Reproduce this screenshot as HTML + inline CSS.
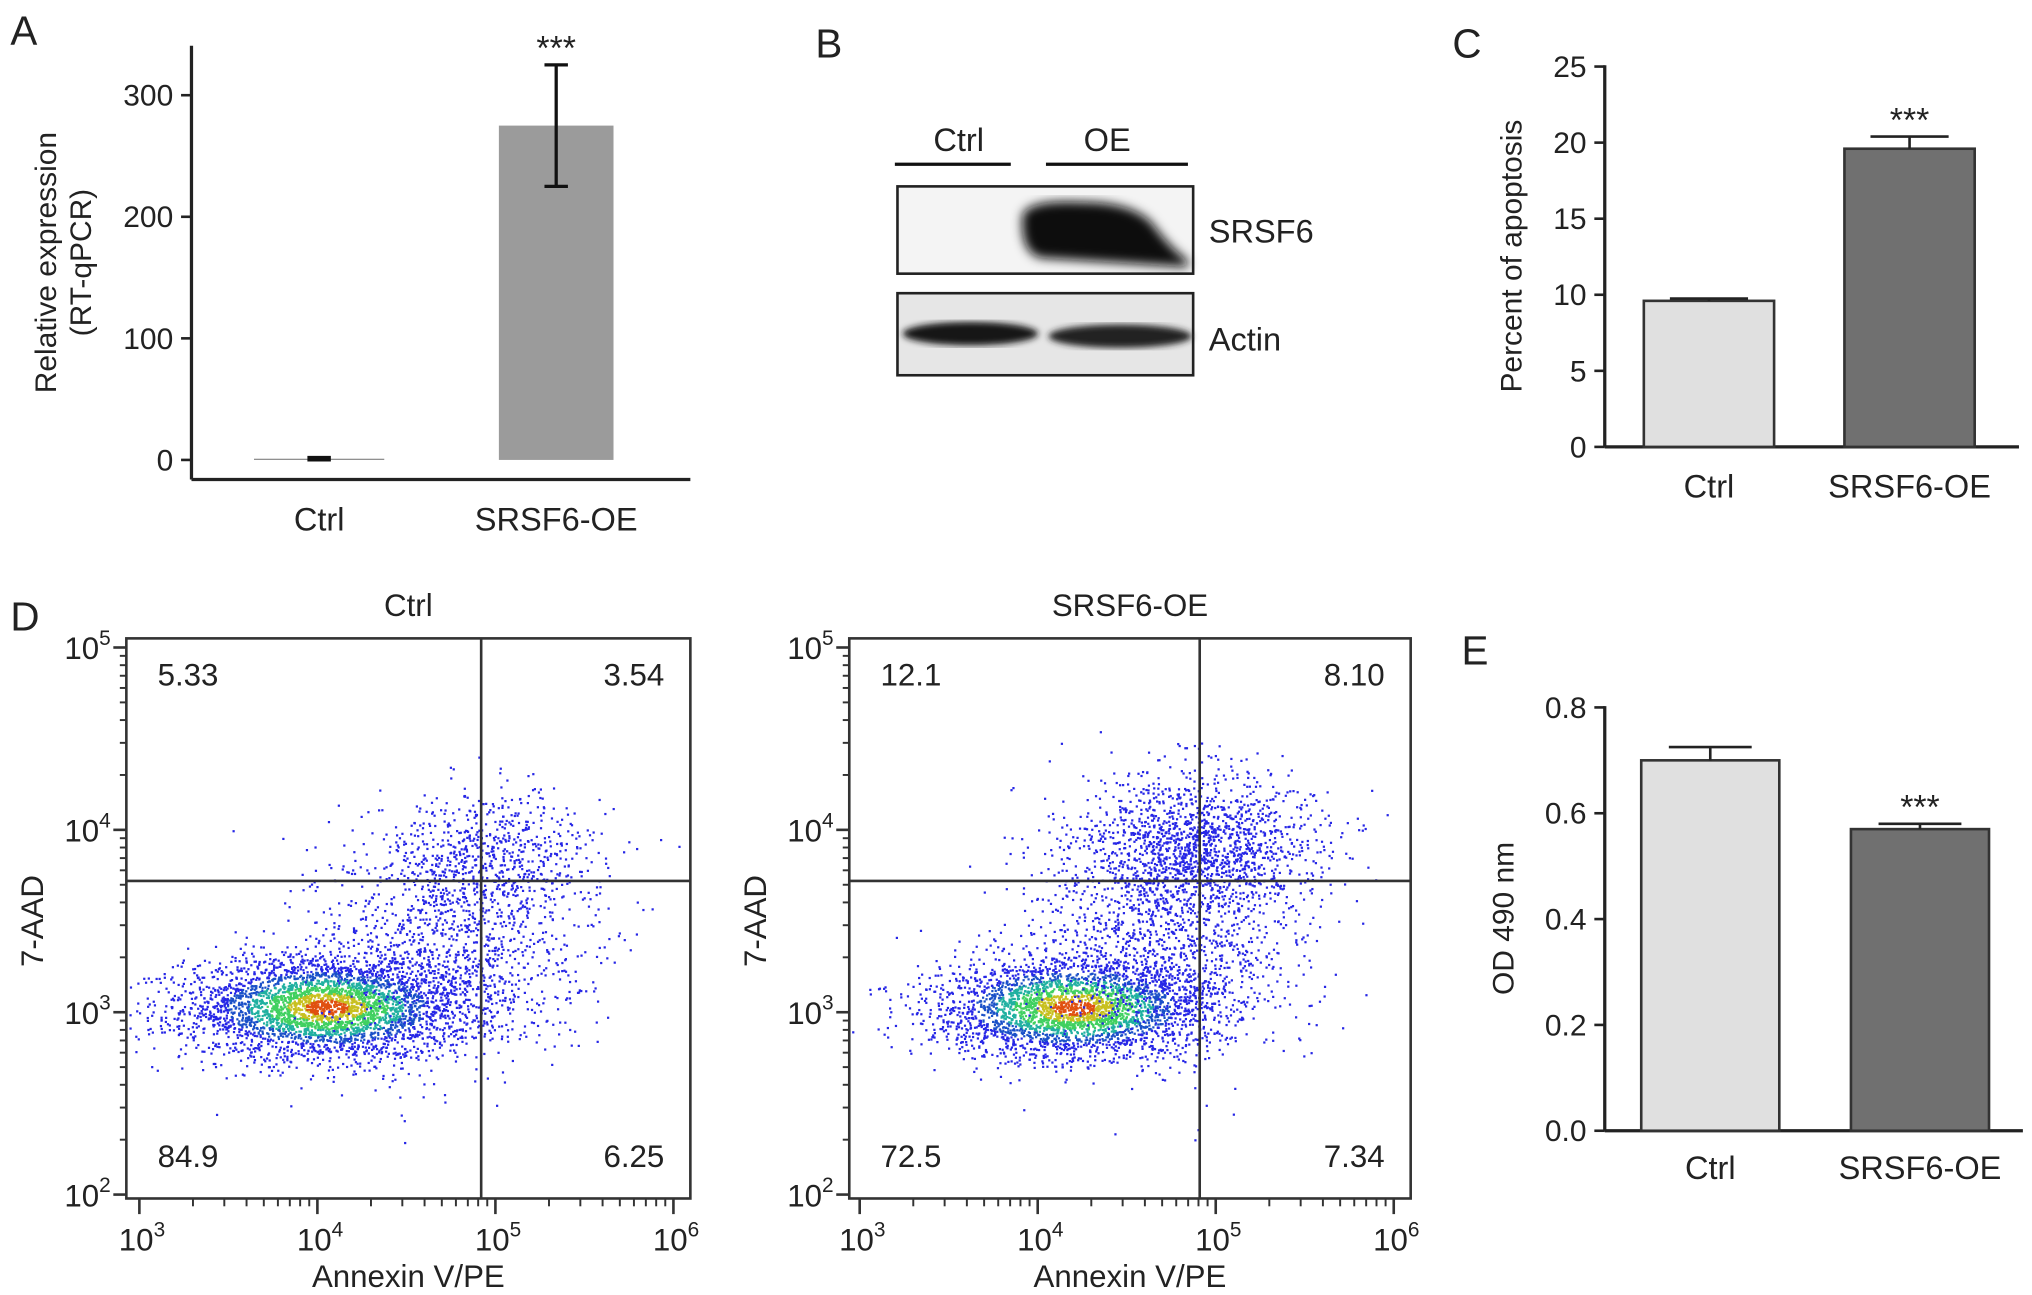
<!DOCTYPE html>
<html><head><meta charset="utf-8"><style>
html,body{margin:0;padding:0;background:#fff}
svg{display:block}
text{font-family:"Liberation Sans",Arial,sans-serif;fill:#222}
</style></head><body>
<svg id="fig" width="2032" height="1295" viewBox="0 0 1560 994" xmlns="http://www.w3.org/2000/svg">
<g id="panelA"></g>
<g id="panelB">
  <text x="626" y="44" font-size="31">B</text>
  <text x="736" y="116" font-size="25" text-anchor="middle">Ctrl</text>
  <text x="850" y="116" font-size="25" text-anchor="middle">OE</text>
  <line x1="687" y1="126" x2="776" y2="126" stroke="#111" stroke-width="2.5"/>
  <line x1="803" y1="126" x2="912" y2="126" stroke="#111" stroke-width="2.5"/>
  <defs>
    <filter id="blur4"><feGaussianBlur stdDeviation="4"/></filter>
    <filter id="blur2"><feGaussianBlur stdDeviation="2.5"/></filter>
  </defs>
  <rect x="689" y="143" width="227" height="67" fill="#f4f4f4" stroke="#222" stroke-width="2"/>
  <path d="M785 165 Q790 153 830 155 Q870 155 885 172 Q898 190 912 200 L912 205 L800 198 Q783 195 785 165 Z" fill="#0a0a0a" filter="url(#blur4)"/>
  <rect x="689" y="225" width="227" height="63" fill="#e6e6e6" stroke="#222" stroke-width="2"/>
  <ellipse cx="745" cy="256" rx="52" ry="9" fill="#151515" filter="url(#blur2)"/>
  <ellipse cx="860" cy="258" rx="55" ry="9" fill="#222" filter="url(#blur2)"/>
  <text x="928" y="186" font-size="25">SRSF6</text>
  <text x="928" y="269" font-size="25">Actin</text>
</g>
<g id="panelC"></g>
<g id="panelD1"></g>
<g id="panelD2"></g>
<g id="panelE"></g>
</svg>
<script>
// ---- data ----
const catsA = ['Ctrl','SRSF6-OE'];
const valsA = [1, 275];
const errA = [1, 50];
const ticksA = [0,100,200,300];
const catsC = ['Ctrl','SRSF6-OE'];
const valsC = [9.6, 19.6];
const errC = [0.15, 0.8];
const ticksC = [0,5,10,15,20,25];
const catsE = ['Ctrl','SRSF6-OE'];
const valsE = [0.70, 0.57];
const errE = [0.025, 0.01];
const ticksE = ['0.0','0.2','0.4','0.6','0.8'];
// flow clusters: [log10 x, log10 y, sdx, sdy, count, dense]
const clustersCtrl = [[4.05,3.03,0.4,0.14,3800,1],[4.95,3.85,0.33,0.18,700,0],[4.75,3.35,0.38,0.3,1000,0]];
const clustersOE = [[4.2,3.03,0.4,0.14,3200,1],[4.9,3.92,0.33,0.2,1500,0],[4.7,3.4,0.38,0.32,1200,0]];
const quadCtrl = ['5.33','3.54','84.9','6.25'];
const quadOE = ['12.1','8.10','72.5','7.34'];
const gateCtrl = [4.92, 3.72];
const gateOE = [4.91, 3.72];

const NS='http://www.w3.org/2000/svg';
function mk(parent,tag,attrs,txt){const e=document.createElementNS(NS,tag);for(const k in attrs)e.setAttribute(k,attrs[k]);if(txt!==undefined)e.textContent=txt;parent.appendChild(e);return e;}

function barPanel(g,opt){
  const y=v=>opt.y0-(v-opt.min)/(opt.max-opt.min)*(opt.y0-opt.yTop);
  let t=mk(g,'text',{x:opt.lx,y:opt.ly,'font-size':31},opt.letter);
  
  let ax=mk(g,'line',{x1:opt.ax,y1:opt.axTop,x2:opt.ax,y2:opt.xaxY,stroke:'#222','stroke-width':2.5});
  
  let xa=mk(g,'line',{x1:opt.ax,y1:opt.xaxY,x2:opt.xEnd,y2:opt.xaxY,stroke:'#222','stroke-width':2.5});
  
  opt.ticks.forEach(tk=>{const v=parseFloat(tk);const yy=y(v);
    let l=mk(g,'line',{x1:opt.ax-8,y1:yy,x2:opt.ax,y2:yy,stroke:'#222','stroke-width':2});
    
    let tt=mk(g,'text',{x:opt.ax-14,y:yy+8,'font-size':23,'text-anchor':'end'},tk);
    });
  let yt=mk(g,'text',{transform:`translate(${opt.ytx},${(opt.axTop+opt.xaxY)/2}) rotate(-90)`,'font-size':23,'text-anchor':'middle'});
  opt.ytitle.forEach((s,i)=>{mk(yt,'tspan',{x:0,dy:i?27:0},s);});
  
  opt.cats.forEach((c,i)=>{
    const cx=opt.cx[i],w=opt.bw,top=y(opt.vals[i]);
    let r=mk(g,'rect',{x:cx-w/2,y:top,width:w,height:y(opt.min)-top,fill:opt.fill[i],stroke:opt.stroke,'stroke-width':opt.sw});
    
    const eh=y(opt.vals[i]+opt.err[i]);
    if(opt.twoSided){const el=y(opt.vals[i]-opt.err[i]);
      let e=mk(g,'path',{d:`M${cx} ${eh}V${el}M${cx-9} ${eh}H${cx+9}M${cx-9} ${el}H${cx+9}`,stroke:'#111','stroke-width':2.5,fill:'none'});
      
    } else {
      let e=mk(g,'path',{d:`M${cx} ${eh}V${top}M${cx-w*0.3} ${eh}H${cx+w*0.3}`,stroke:'#222','stroke-width':2,fill:'none'});
      
    }
    let lb=mk(g,'text',{x:cx,y:opt.catY,'font-size':25,'text-anchor':'middle'},c);
    
    if(opt.star[i]){let s=mk(g,'text',{x:cx,y:eh-4,'font-size':26,'text-anchor':'middle'},'***');
      }
  });
}
barPanel(document.getElementById('panelA'),{letter:'A',lx:8,ly:34,ax:147,axTop:35,xaxY:368,xEnd:530,y0:353,yTop:73,min:0,max:300,
  ticks:ticksA.map(String),ytitle:['Relative expression','(RT-qPCR)'],ytx:43,cats:catsA,vals:valsA,err:errA,cx:[245,427],bw:100,
  fill:['#888','#9b9b9b'],stroke:'none',sw:0,twoSided:true,catY:407,star:[0,1]});
barPanel(document.getElementById('panelC'),{letter:'C',lx:1115,ly:44,ax:1232,axTop:50,xaxY:343,xEnd:1550,y0:343,yTop:51,min:0,max:25,
  ticks:ticksC.map(String),ytitle:['Percent of apoptosis'],ytx:1168,cats:catsC,vals:valsC,err:errC,cx:[1312,1466],bw:100,
  fill:['#e0e0e0','#707070'],stroke:'#333',sw:2,twoSided:false,catY:382,star:[0,1]});
barPanel(document.getElementById('panelE'),{letter:'E',lx:1122,ly:510,ax:1232,axTop:542,xaxY:868,xEnd:1553,y0:868,yTop:543,min:0,max:0.8,
  ticks:ticksE,ytitle:['OD 490 nm'],ytx:1162,cats:catsE,vals:valsE,err:errE,cx:[1313,1474],bw:106,
  fill:['#e0e0e0','#707070'],stroke:'#333',sw:2,twoSided:false,catY:905,star:[0,1]});
document.querySelectorAll('#panelA rect').forEach((r,i)=>{const cx=[245,427][i];r.setAttribute('x',cx-(i?44:50));r.setAttribute('width',i?88:100);});

function rng(seed){let s=seed;return()=>{s=(s*1664525+1013904223)%4294967296;return s/4294967296;};}
function flow(g,o){
  const X=v=>o.x0+(v-3)*(o.x1-o.x0)/3, Y=v=>o.y0-(v-2)*(o.y0-o.y1)/3;
  const bx=o.bx0,by=o.by0,bw=o.bx1-o.bx0,bh=o.by1-o.by0;
  let tl=mk(g,'text',{x:(o.bx0+o.bx1)/2,y:473,'font-size':24,'text-anchor':'middle'},o.title);
  
  const r=rng(o.seed);
  const gauss=()=>{let u=r()||1e-6,v=r();return Math.sqrt(-2*Math.log(u))*Math.cos(2*Math.PI*v);};
  const dots=mk(g,'g',{});
  o.clusters.forEach(c=>{
    for(let i=0;i<c[4];i++){const a=gauss(),b=gauss();const lx=c[0]+a*c[2],ly=c[1]+b*c[3];
      const px=X(lx),py=Y(ly);if(px<bx+2||px>bx+bw-2||py<by+2||py>by+bh-2)continue;
      const d=Math.sqrt(a*a+b*b);let col='#2626e6';
      if(c[5]){if(d<0.3)col='#e05010';else if(d<0.55)col='#c8c020';else if(d<0.85)col='#40d060';else if(d<1.1)col='#20b0a0';else if(d<1.4)col='#1a50c8';}
      mk(dots,'rect',{x:px.toFixed(1),y:py.toFixed(1),width:1.7,height:1.7,fill:col});}
  });
  let box=mk(g,'rect',{x:bx,y:by,width:bw,height:bh,fill:'none',stroke:'#333','stroke-width':2});
  
  let vg=mk(g,'line',{x1:X(o.gate[0]),y1:by,x2:X(o.gate[0]),y2:by+bh,stroke:'#333','stroke-width':2});
  
  let hg=mk(g,'line',{x1:bx,y1:Y(o.gate[1]),x2:bx+bw,y2:Y(o.gate[1]),stroke:'#333','stroke-width':2});
  
  const qp=[[bx+24,by+36,'start'],[bx+bw-20,by+36,'end'],[bx+24,by+bh-24,'start'],[bx+bw-20,by+bh-24,'end']];
  o.quad.forEach((q,i)=>{let t=mk(g,'text',{x:qp[i][0],y:qp[i][1],'font-size':24,'text-anchor':qp[i][2]},q);
    });
  for(let dd=3;dd<=6;dd++){
    const px=X(dd);let l=mk(g,'line',{x1:px,y1:by+bh,x2:px,y2:by+bh+12,stroke:'#333','stroke-width':2});
    
    let t=mk(g,'text',{x:px+2,y:by+bh+40,'font-size':24,'text-anchor':'middle'},'10');
    mk(t,'tspan',{dy:-11,'font-size':16},String(dd));
    
    if(dd<6)for(let m=2;m<10;m++){const mx=X(dd+Math.log10(m));mk(g,'line',{x1:mx,y1:by+bh,x2:mx,y2:by+bh+6,stroke:'#333','stroke-width':1.5});}
  }
  for(let dd=2;dd<=5;dd++){
    const py=Y(dd);let l=mk(g,'line',{x1:bx-10,y1:py,x2:bx,y2:py,stroke:'#333','stroke-width':2});
    
    let t=mk(g,'text',{x:bx-12,y:py+9,'font-size':24,'text-anchor':'end'},'10');
    mk(t,'tspan',{dy:-11,'font-size':16},String(dd));
    
    if(dd<5)for(let m=2;m<10;m++){const my=Y(dd+Math.log10(m));mk(g,'line',{x1:bx-5,y1:my,x2:bx,y2:my,stroke:'#333','stroke-width':1.5});}
  }
  let xt=mk(g,'text',{x:(bx+bx+bw)/2,y:988,'font-size':24,'text-anchor':'middle'},'Annexin V/PE');
  
  let yt=mk(g,'text',{transform:`translate(${bx-64},${Y(3.5)}) rotate(-90)`,'font-size':24,'text-anchor':'middle'},'7-AAD');
  
}
const gd1=document.getElementById('panelD1');
let dl=mk(gd1,'text',{x:8,y:484,'font-size':31},'D');
flow(gd1,{title:'Ctrl',bx0:97,bx1:530,by0:490,by1:920,x0:107,x1:517,y0:917,y1:497,clusters:clustersCtrl,quad:quadCtrl,gate:gateCtrl,seed:12345});
flow(document.getElementById('panelD2'),{title:'SRSF6-OE',bx0:652,bx1:1083,by0:490,by1:920,x0:660,x1:1070,y0:917,y1:497,clusters:clustersOE,quad:quadOE,gate:gateOE,seed:98765});
</script>
</body></html>
